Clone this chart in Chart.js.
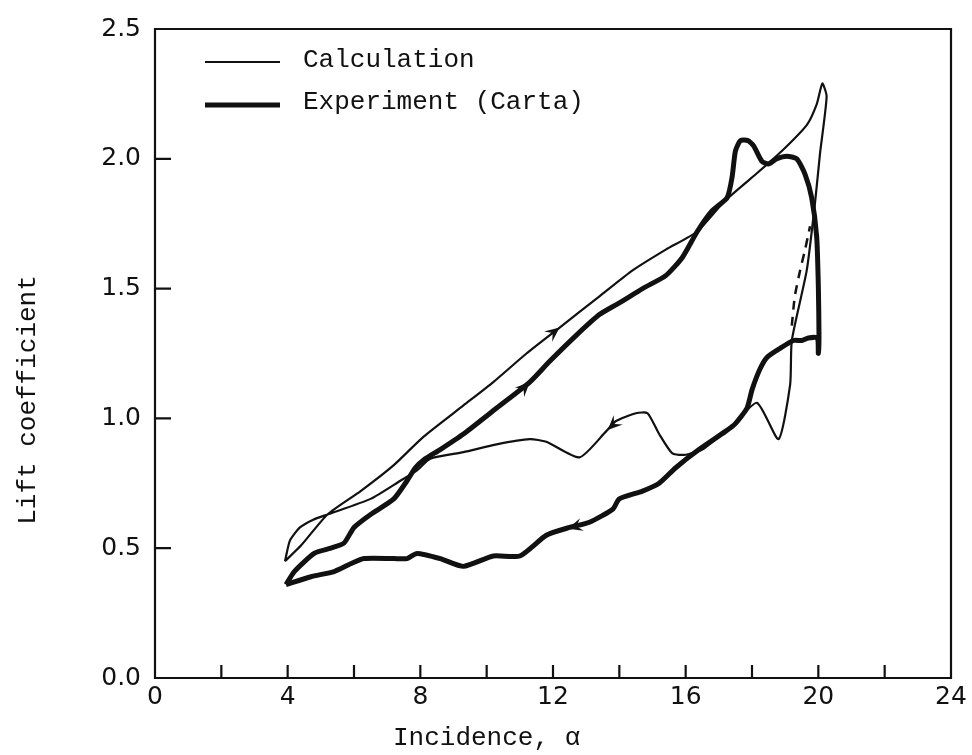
<!DOCTYPE html>
<html>
<head>
<meta charset="utf-8">
<script src="https://cdn.jsdelivr.net/npm/chart.js@4/dist/chart.umd.min.js"></script>
<style>
  html, body { margin: 0; padding: 0; background: #fff; }
  canvas { display: block; }
</style>
</head>
<body>
<canvas id="chart" width="972" height="755"></canvas>
<script>
// Dynamic-stall lift loop: incidence (deg) vs lift coefficient

// Calculation: upstroke along the upper branch, downstroke along the lower one
const calcAlpha = [3.92, 4.4, 5.2, 6.2, 7.2, 8.1, 9.3, 10.2, 11.2, 12.2, 13.4, 14.4, 15.4, 16.35, 17.2, 18.2, 18.9, 19.65, 19.95, 20.12,
  20.25, 20.05, 19.9, 19.65, 19.2, 19.15, 18.8, 18.15, 17.4, 16.9, 16.5, 16.0, 15.6, 15.2, 14.85, 14.5, 13.9, 13.6, 12.8,
  11.8, 11.3, 10.3, 9.3, 8.3, 7.9, 7.4, 6.5, 5.2, 4.77, 4.37, 4.07, 3.92];
const calcCl = [0.45, 0.51, 0.63, 0.72, 0.82, 0.93, 1.05, 1.14, 1.25, 1.35, 1.47, 1.57, 1.65, 1.72, 1.84, 1.95, 2.03, 2.13, 2.21, 2.29,
  2.24, 2.02, 1.83, 1.57, 1.30, 1.13, 0.92, 1.06, 0.97, 0.92, 0.88, 0.86, 0.865, 0.94, 1.02, 1.02, 0.99, 0.95, 0.85,
  0.91, 0.92, 0.90, 0.87, 0.845, 0.80, 0.76, 0.69, 0.63, 0.61, 0.58, 0.53, 0.45];

// Experiment (Carta)
const expAlpha = [3.95, 4.2, 4.8, 5.3, 5.7, 6.0, 6.5, 7.2, 7.6, 7.85, 8.1, 8.6, 9.3, 10.3, 11.3, 11.9, 12.7, 13.4, 14.0, 14.7,
  15.4, 15.9, 16.35, 16.8, 17.25, 17.4, 17.5, 17.65, 17.88, 18.05, 18.3, 18.5, 18.75, 19.05, 19.35, 19.6, 19.8, 19.95, 20.0,
  20.02, 20.0, 19.97, 19.7, 19.5, 19.25, 18.85, 18.45, 18.24, 18.0, 17.85, 17.5, 17.2, 16.4, 15.7, 15.2, 14.7, 14.0, 13.8,
  13.1, 12.5, 11.8, 11.0, 10.2, 9.3, 8.6, 7.9, 7.6, 7.2, 6.3, 5.9, 5.4, 4.7, 3.95];
const expCl = [0.36, 0.41, 0.48, 0.50, 0.52, 0.58, 0.63, 0.69, 0.76, 0.81, 0.84, 0.88, 0.94, 1.04, 1.14, 1.22, 1.32, 1.40, 1.445, 1.50,
  1.55, 1.62, 1.72, 1.80, 1.85, 1.93, 2.03, 2.07, 2.07, 2.05, 1.99, 1.98, 2.00, 2.01, 2.00, 1.94, 1.85, 1.70, 1.51,
  1.32, 1.25, 1.31, 1.31, 1.30, 1.30, 1.27, 1.235, 1.19, 1.11, 1.04, 0.98, 0.95, 0.88, 0.81, 0.75, 0.72, 0.69, 0.65,
  0.60, 0.58, 0.55, 0.47, 0.47, 0.43, 0.46, 0.48, 0.46, 0.46, 0.46, 0.44, 0.41, 0.39, 0.36];

// Dashed link between the calculated branches near stall
const linkAlpha = [19.2, 19.29, 19.45, 19.6, 19.75];
const linkCl = [1.357, 1.47, 1.57, 1.65, 1.74];

// Direction arrows: position on a branch and a point further along it
const arrowAlpha = [12.2, 11.3, 13.65, 12.45];
const arrowCl = [1.35, 1.14, 0.955, 0.575];
const arrowToAlpha = [13.4, 12.7, 12.8, 11.8];
const arrowToCl = [1.47, 1.32, 0.85, 0.55];

const xTickLabels = ['0', '4', '8', '12', '16', '20', '24'];
const yTickLabels = ['0.0', '0.5', '1.0', '1.5', '2.0', '2.5'];

const xTitle = 'Incidence, \u03b1';
const yTitle = 'Lift coefficient';

const zip = (xs, ys) => xs.map((v, i) => ({ x: v, y: ys[i] }));

const INK = '#111';
const MONO = '"Liberation Mono", "DejaVu Sans Mono", monospace';
const SANS = '"DejaVu Sans", "Liberation Sans", sans-serif';

const decorations = {
  id: 'decorations',
  afterDraw(chart) {
    const { ctx, chartArea: a, scales: { x, y } } = chart;
    ctx.save();
    ctx.strokeStyle = INK;
    ctx.fillStyle = INK;
    ctx.lineCap = 'butt';

    // frame
    ctx.lineWidth = 2.2;
    ctx.beginPath();
    ctx.rect(a.left, a.top, a.right - a.left, a.bottom - a.top);
    ctx.stroke();

    // inward tick marks
    ctx.beginPath();
    for (let v = 2; v < 24; v += 2) {
      const px = x.getPixelForValue(v);
      ctx.moveTo(px, a.bottom);
      ctx.lineTo(px, a.bottom - 13);
    }
    for (let v = 0.5; v < 2.5; v += 0.5) {
      const py = y.getPixelForValue(v);
      ctx.moveTo(a.left, py);
      ctx.lineTo(a.left + 16, py);
    }
    ctx.stroke();

    // direction arrows
    arrowAlpha.forEach((av, i) => {
      const px = x.getPixelForValue(av), py = y.getPixelForValue(arrowCl[i]);
      const qx = x.getPixelForValue(arrowToAlpha[i]), qy = y.getPixelForValue(arrowToCl[i]);
      const ang = Math.atan2(qy - py, qx - px);
      const L = 16, W = 0.42;
      ctx.beginPath();
      ctx.moveTo(px, py);
      ctx.lineTo(px - L * Math.cos(ang - W), py - L * Math.sin(ang - W));
      ctx.lineTo(px - 0.55 * L * Math.cos(ang), py - 0.55 * L * Math.sin(ang));
      ctx.lineTo(px - L * Math.cos(ang + W), py - L * Math.sin(ang + W));
      ctx.closePath();
      ctx.fill();
    });

    // legend
    const rows = [
      { ds: chart.data.datasets[0], yLine: 62, yText: 60 },
      { ds: chart.data.datasets[1], yLine: 105, yText: 102 }
    ];
    ctx.font = '26px ' + MONO;
    ctx.textBaseline = 'middle';
    ctx.textAlign = 'left';
    rows.forEach(r => {
      ctx.lineWidth = r.ds.borderWidth;
      ctx.beginPath();
      ctx.moveTo(205, r.yLine);
      ctx.lineTo(280, r.yLine);
      ctx.stroke();
      ctx.fillText(r.ds.label, 303, r.yText);
    });

    // axis titles
    ctx.fillText(xTitle, 393, 738);
    ctx.translate(28, 400);
    ctx.rotate(-Math.PI / 2);
    ctx.textAlign = 'center';
    ctx.fillText(yTitle, 0, 0);
    ctx.restore();
  }
};

new Chart(document.getElementById('chart'), {
  type: 'scatter',
  data: {
    datasets: [
      {
        label: 'Calculation',
        data: zip(calcAlpha, calcCl),
        showLine: true,
        borderColor: INK,
        borderWidth: 2.2,
        pointRadius: 0,
        tension: 0.2
      },
      {
        label: 'Experiment (Carta)',
        data: zip(expAlpha, expCl),
        showLine: true,
        borderColor: INK,
        borderWidth: 5,
        pointRadius: 0,
        tension: 0.2
      },
      {
        label: 'stall link',
        data: zip(linkAlpha, linkCl),
        showLine: true,
        borderColor: INK,
        borderWidth: 2.5,
        borderDash: [9, 7],
        pointRadius: 0,
        tension: 0.2
      }
    ]
  },
  options: {
    responsive: false,
    animation: false,
    events: [],
    layout: { padding: { top: 24, right: 21, left: 0, bottom: 0 } },
    plugins: { legend: { display: false }, tooltip: { enabled: false } },
    scales: {
      x: {
        type: 'linear',
        min: 0, max: 24,
        grid: { display: false, drawTicks: false },
        border: { display: false },
        afterFit: s => { s.height = 77; },
        ticks: {
          stepSize: 4,
          autoSkip: false,
          maxRotation: 0,
          padding: 4,
          color: INK,
          font: { family: SANS, size: 25 },
          callback: (v) => xTickLabels[v / 4] ?? ''
        }
      },
      y: {
        type: 'linear',
        min: 0, max: 2.5,
        grid: { display: false, drawTicks: false },
        border: { display: false },
        afterFit: s => { s.width = 155; },
        ticks: {
          stepSize: 0.5,
          autoSkip: false,
          padding: 14,
          color: INK,
          font: { family: SANS, size: 25 },
          callback: (v) => yTickLabels[Math.round(v * 2)] ?? ''
        }
      }
    }
  },
  plugins: [decorations]
});
</script>
</body>
</html>
